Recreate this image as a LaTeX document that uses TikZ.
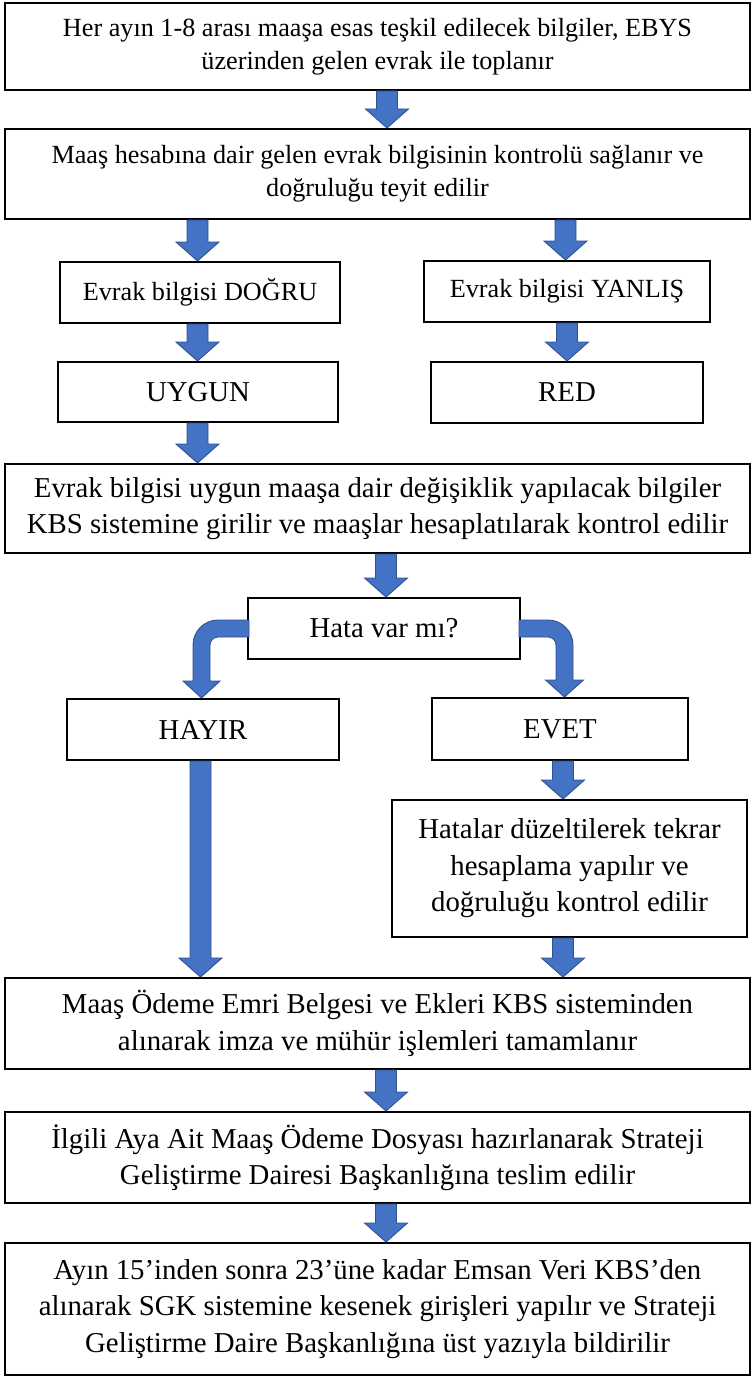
\documentclass[tikz,border=0pt]{standalone}
\usepackage{fontspec}
\setmainfont{Liberation Serif}
\usetikzlibrary{calc}
\definecolor{arrowfill}{HTML}{4472C4}
\definecolor{arrowline}{HTML}{2F528F}
\newcommand{\fsmall}{\fontsize{26.2}{33}\selectfont}
\newcommand{\fbig}{\fontsize{28.8}{36.5}\selectfont}
\tikzset{
  box/.style={draw, line width=1.7pt, inner sep=0pt, outer sep=0pt, align=center, fill=white},
  smallbox/.style={box, font=\fsmall},
  bigbox/.style={box, font=\fbig},
  barrow/.style={fill=arrowfill, draw=arrowline, line width=0.9pt, line join=miter}
}
\newcommand{\bdown}[3]{%
  \path[barrow] let \p1=(#1.south), \p2=(#2.north) in
  (#3pt-10.5pt,\y1-1pt) -- (#3pt+10.5pt,\y1-1pt) -- (#3pt+10.5pt,\y2+20pt) -- (#3pt+21.5pt,\y2+20pt)
  -- (#3pt,\y2+1pt) -- (#3pt-21.5pt,\y2+20pt) -- (#3pt-10.5pt,\y2+20pt) -- cycle;}
\begin{document}
\begin{tikzpicture}[x=1pt,y=-1pt]
\useasboundingbox (0,0) rectangle (752,1378);
\node[smallbox, minimum width=745pt, minimum height=87pt] (b1) at (377.5,46.5)
  {Her ayın 1-8 arası maaşa esas teşkil edilecek bilgiler, EBYS\\ üzerinden gelen evrak ile toplanır};
\node[smallbox, minimum width=745pt, minimum height=90pt] (b2) at (377.5,174)
  {Maaş hesabına dair gelen evrak bilgisinin kontrolü sağlanır ve\\ doğruluğu teyit edilir};
\node[smallbox, minimum width=280pt, minimum height=61pt] (dogru) at (200,292.5) {Evrak bilgisi DOĞRU};
\node[smallbox, minimum width=286pt, minimum height=61pt] (yanlis) at (567,291.5) {Evrak bilgisi YANLIŞ};
\node[bigbox, minimum width=280pt, minimum height=60pt] (uygun) at (198,392) {UYGUN};
\node[bigbox, minimum width=272pt, minimum height=61pt] (red) at (567,392.5) {RED};
\node[bigbox, minimum width=745pt, minimum height=89pt] (kbs) at (377.5,508.5)
  {Evrak bilgisi uygun maaşa dair değişiklik yapılacak bilgiler\\ KBS sistemine girilir ve maaşlar hesaplatılarak kontrol edilir};
\node[bigbox, minimum width=272pt, minimum height=61pt] (hata) at (384,628.5) {Hata var mı?};
\node[bigbox, minimum width=272pt, minimum height=61pt] (hayir) at (203,729.5) {HAYIR};
\node[bigbox, minimum width=256pt, minimum height=62pt] (evet) at (560,729) {EVET};
\node[bigbox, minimum width=355pt, minimum height=137pt] (hatalar) at (569.5,868.5)
  {Hatalar düzeltilerek tekrar\\ hesaplama yapılır ve\\ doğruluğu kontrol edilir};
\node[bigbox, minimum width=745pt, minimum height=91pt] (maas) at (377.5,1023.5)
  {Maaş Ödeme Emri Belgesi ve Ekleri KBS sisteminden\\ alınarak imza ve mühür işlemleri tamamlanır};
\node[bigbox, minimum width=745pt, minimum height=91pt] (ilgili) at (377.5,1157.5)
  {İlgili Aya Ait Maaş Ödeme Dosyası hazırlanarak Strateji\\ Geliştirme Dairesi Başkanlığına teslim edilir};
\node[bigbox, minimum width=745pt, minimum height=132pt] (son) at (377.5,1309)
  {Ayın 15’inden sonra 23’üne kadar Emsan Veri KBS’den\\ alınarak SGK sistemine kesenek girişleri yapılır ve Strateji\\ Geliştirme Daire Başkanlığına üst yazıyla bildirilir};
% straight block arrows
\bdown{b1}{b2}{387}
\bdown{b2}{dogru}{197.5}
\bdown{b2}{yanlis}{565.5}
\bdown{dogru}{uygun}{197.5}
\bdown{yanlis}{red}{567}
\bdown{uygun}{kbs}{197.5}
\bdown{kbs}{hata}{386}
\bdown{evet}{hatalar}{563}
\bdown{hayir}{maas}{200.5}
\bdown{hatalar}{maas}{563}
\bdown{maas}{ilgili}{386}
\bdown{ilgili}{son}{386}
% curved block arrows
\path[barrow] let \p1=(hata.west), \p2=(hayir.north) in
  (\x1+1pt,\y1+8.5pt) -- (218pt,\y1+8.5pt) arc (270:180:25) -- (193pt,\y2+18pt) -- (183pt,\y2+18pt)
  -- (201.5pt,\y2+1pt) -- (220pt,\y2+18pt) -- (210pt,\y2+18pt) -- (210pt,\y1-16.5pt) arc (180:270:8)
  -- (\x1+1pt,\y1-8.5pt) -- cycle;
\path[barrow] let \p1=(hata.east), \p2=(evet.north) in
  (\x1-1pt,\y1+8.5pt) -- (548pt,\y1+8.5pt) arc (270:360:25) -- (573pt,\y2+18pt) -- (583.5pt,\y2+18pt)
  -- (564.5pt,\y2+1pt) -- (545.5pt,\y2+18pt) -- (556pt,\y2+18pt) -- (556pt,\y1-16.5pt) arc (0:-90:8)
  -- (\x1-1pt,\y1-8.5pt) -- cycle;
\end{tikzpicture}
\end{document}
